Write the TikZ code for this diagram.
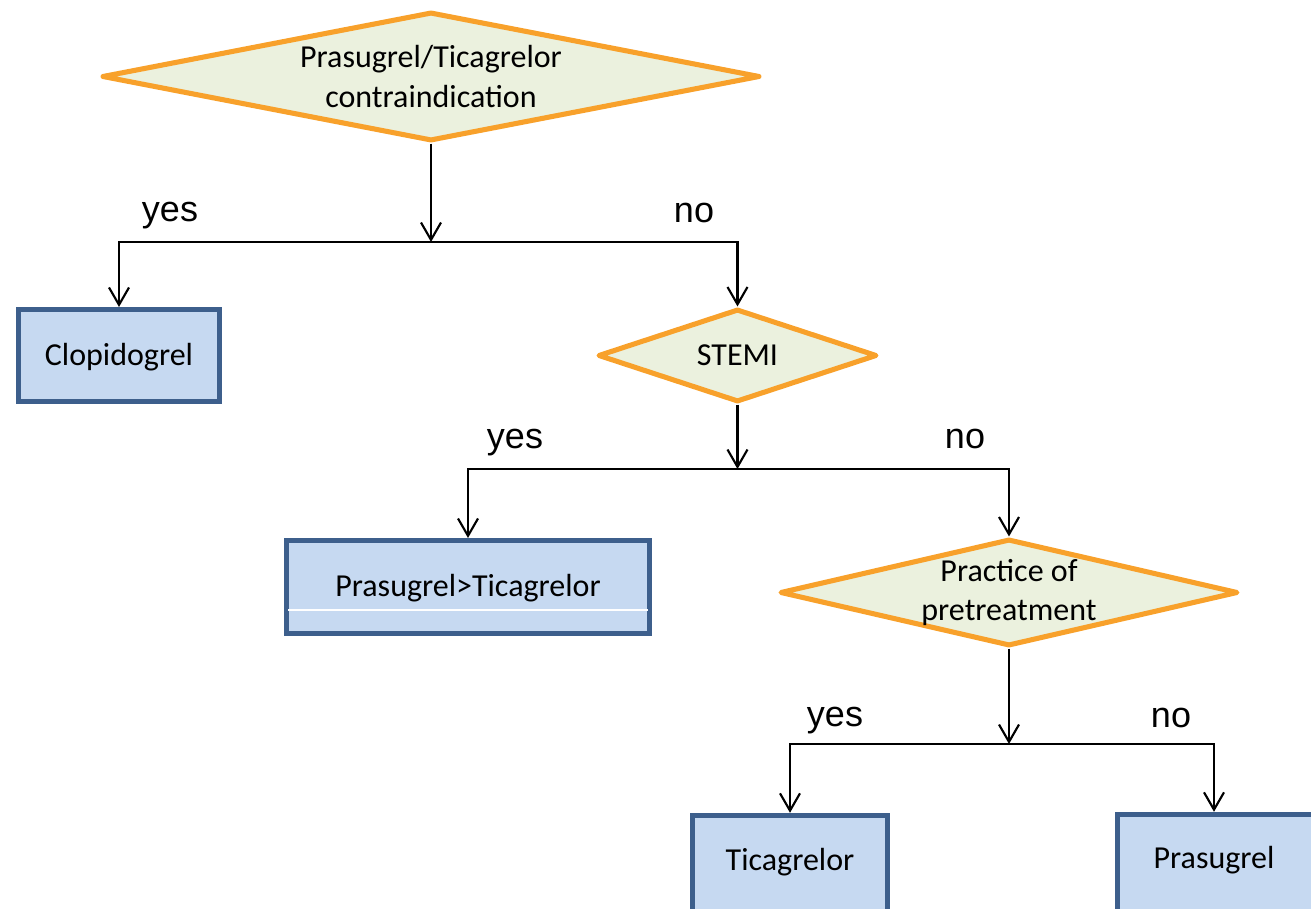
\documentclass[tikz,border=0pt]{standalone}
\usepackage{fontspec}
\setmainfont{Carlito}
\newfontfamily\arialfont{Liberation Sans}
\usetikzlibrary{shapes.geometric,arrows.meta}
\definecolor{boxfill}{HTML}{C6D9F1}
\definecolor{boxline}{HTML}{3D5F8C}
\definecolor{diafill}{HTML}{EBF1DE}
\definecolor{dialine}{HTML}{F8A12B}
\tikzset{
  dia/.style={shape=diamond, draw=dialine, fill=diafill, line width=3.8pt, line join=round, inner sep=0pt},
  drug/.style={shape=rectangle, draw=boxline, fill=boxfill, line width=3.8pt, inner sep=0pt},
  txt/.style={font=\fontsize{24}{29.3}\selectfont, align=center, inner sep=0pt},
  lab/.style={font=\arialfont\fontsize{27}{32}\selectfont, anchor=base, inner sep=0pt},
  conn/.style={line width=1.6pt, draw=black},
  arr/.style={conn, -{Straight Barb[length=13pt,width=15pt,line width=1.6pt]}}
}
\begin{document}
\begin{tikzpicture}[x=0.75pt,y=-0.75pt]
\useasboundingbox (0,0) rectangle (1311,909);
% decisions
\node[dia, minimum width=493.5pt, minimum height=96.75pt] (d1) at (431,76.5) {};
\node[txt] (d1t) at (d1.center) {Prasugrel/Ticagrelor\\contraindication};
\node[dia, minimum width=209.25pt, minimum height=69.75pt] (d2) at (737.5,355.5) {};
\node[txt] (d2t) at (d2.center) {STEMI};
\node[dia, minimum width=343.5pt, minimum height=80.25pt] (d3) at (1009,592.5) {};
\node[txt] (d3t) at (d3.center) {Practice of\\pretreatment};
% outcomes
\node[drug, minimum width=150.75pt, minimum height=69pt] (clop) at (119,355.5) {};
\node[txt] (clopt) at (119,357) {Clopidogrel};
\node[drug, minimum width=272.25pt, minimum height=69.75pt] (pt) at (468,587) {};
\node[txt] (ptt) at (468,588) {Prasugrel>Ticagrelor};
\draw[white, line width=0.8pt] (288,610) -- (648,610);
\node[drug, minimum width=146.25pt, minimum height=76pt] (tic) at (790,866) {};
\node[txt] (tict) at (790,862) {Ticagrelor};
\node[drug, minimum width=152pt, minimum height=76pt] (pras) at (1219,865) {};
\node[txt] (prast) at (1214,860) {Prasugrel};
% junctions
\coordinate (j1) at (431,242);
\coordinate (j2) at (737.5,469);
\coordinate (j3) at (1009,744);
\coordinate (prastop) at (pras.north -| prast.center);
% connectors
\draw[arr] (d1.south) -- (j1);
\draw[arr] (j1) -| (clop.north);
\draw[arr] (j1) -| (d2.north);
\draw[arr] (d2.south) -- (j2);
\draw[arr] (j2) -| (pt.north);
\draw[arr] (j2) -| (d3.north);
\draw[arr] (d3.south) -- (j3);
\draw[arr] (j3) -| (tic.north);
\draw[arr] (j3) -| (prastop);
% labels
\node[lab] (y1) at (170,222) {yes};
\node[lab] (n1) at (694,223) {no};
\node[lab] (y2) at (515,449) {yes};
\node[lab] (n2) at (965,449) {no};
\node[lab] (y3) at (835,726) {yes};
\node[lab] (n3) at (1171,727) {no};
\end{tikzpicture}
\end{document}
